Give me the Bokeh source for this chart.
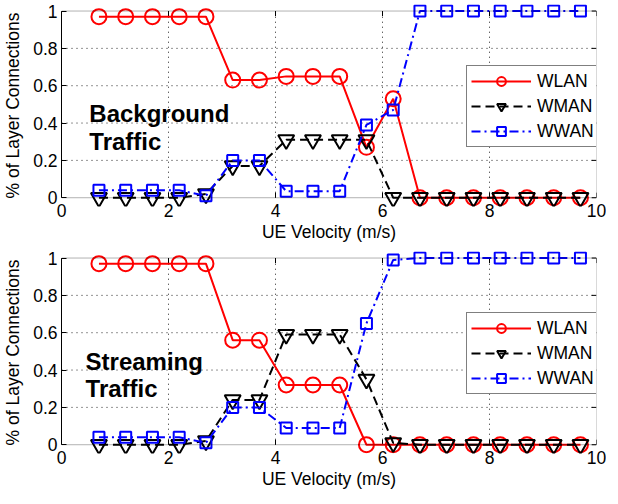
from bokeh.plotting import figure
from bokeh.models import (Legend, LegendItem, FixedTicker, NumeralTickFormatter,
                          Label, Range1d, BoxAnnotation)
from bokeh.layouts import column
from bokeh.embed import file_html
from bokeh.resources import INLINE

# ---------------- data ----------------
velocity = [0.7, 1.2, 1.7, 2.2, 2.7, 3.2, 3.7, 4.2, 4.7, 5.2,
            5.7, 6.2, 6.7, 7.2, 7.7, 8.2, 8.7, 9.2, 9.7]

bg_wlan = [0.97, 0.97, 0.97, 0.97, 0.97, 0.63, 0.63, 0.65, 0.65, 0.65,
           0.27, 0.53, 0, 0, 0, 0, 0, 0, 0]
bg_wman = [0, 0, 0, 0, 0.02, 0.17, 0.17, 0.31, 0.31, 0.31,
           0.31, 0, 0, 0, 0, 0, 0, 0, 0]
bg_wwan = [0.04, 0.04, 0.04, 0.04, 0.01, 0.2, 0.2, 0.035, 0.035, 0.035,
           0.39, 0.47, 1, 1, 1, 1, 1, 1, 1]

st_wlan = [0.97, 0.97, 0.97, 0.97, 0.97, 0.56, 0.56, 0.32, 0.32, 0.32,
           0, 0, 0, 0, 0, 0, 0, 0, 0]
st_wman = [0, 0, 0, 0, 0.02, 0.24, 0.24, 0.59, 0.59, 0.59,
           0.35, 0.01, 0, 0, 0, 0, 0, 0, 0]
st_wwan = [0.04, 0.04, 0.04, 0.04, 0.01, 0.2, 0.2, 0.09, 0.09, 0.09,
           0.65, 0.99, 1, 1, 1, 1, 1, 1, 1]

series_names = ["WLAN", "WMAN", "WWAN"]
x_ticks = [0, 2, 4, 6, 8, 10]
y_ticks = [0, 0.2, 0.4, 0.6, 0.8, 1]
x_label = "UE Velocity (m/s)"
y_label = "% of Layer Connections"
bg_text = ["Background", "Traffic"]
st_text = ["Streaming", "Traffic"]

FONT = "Liberation Sans"
FS = "17.5px"
X0, X1 = 0, 10
Y0, Y1 = 0, 1
Y_PAD_LO, Y_PAD_HI = 0.047, 0.035   # room so edge markers are not clipped
TICK_X, TICK_Y = 0.09, 0.027        # inner tick length (data units)


def make_panel(wlan, wman, wwan, text_lines, text_pos, height):
    p = figure(width=606, height=height,
               x_range=Range1d(X0, X1), y_range=Range1d(Y0 - Y_PAD_LO, Y1 + Y_PAD_HI),
               output_backend="svg", toolbar_location=None,
               min_border_left=57, min_border_right=10,
               min_border_top=4, min_border_bottom=41)
    p.outline_line_color = None
    p.background_fill_color = "white"
    p.border_fill_color = "white"
    p.xgrid.visible = False
    p.ygrid.visible = False

    for ax, ticks in ((p.xaxis[0], x_ticks), (p.yaxis[0], y_ticks)):
        ax.ticker = FixedTicker(ticks=ticks)
        ax.formatter = NumeralTickFormatter(format="0.[0]")
        ax.major_tick_out = 0
        ax.minor_tick_line_color = None
        ax.major_label_text_font = FONT
        ax.major_label_text_font_size = FS
        ax.major_label_text_color = "black"
        ax.axis_label_text_font = FONT
        ax.axis_label_text_font_size = FS
        ax.axis_label_text_font_style = "normal"
        ax.axis_label_text_color = "black"
    # x axis sits just below the box; its ticks are drawn by hand on the box edge
    p.xaxis.axis_line_color = None
    p.xaxis.major_tick_in = 0
    p.xaxis.major_tick_line_color = None
    p.xaxis.major_label_standoff = -3
    p.xaxis.axis_label = x_label
    p.xaxis.axis_label_standoff = 2
    p.yaxis.bounds = (Y0, Y1)
    p.yaxis.major_tick_in = 5
    p.yaxis.axis_line_color = "black"
    p.yaxis.major_tick_line_color = "black"
    p.yaxis.axis_label = y_label
    p.yaxis.major_label_standoff = 4
    p.yaxis.axis_label_standoff = 7

    # dotted grid
    gx = x_ticks[1:-1]
    gy = y_ticks[1:-1]
    p.segment(x0=gx, y0=[Y0] * len(gx), x1=gx, y1=[Y1] * len(gx),
              line_color="black", line_dash="1 4", line_width=1, line_alpha=0.85)
    p.segment(x0=[X0] * len(gy), y0=gy, x1=[X1] * len(gy), y1=gy,
              line_color="black", line_dash="1 4", line_width=1, line_alpha=0.85)
    # inner ticks on bottom, top and right edges
    n = len(x_ticks)
    p.segment(x0=x_ticks, y0=[Y0] * n, x1=x_ticks, y1=[Y0 + TICK_Y] * n,
              line_color="black", line_width=1)
    p.segment(x0=x_ticks, y0=[Y1] * n, x1=x_ticks, y1=[Y1 - TICK_Y] * n,
              line_color="black", line_width=1)
    m = len(y_ticks)
    p.segment(x0=[X1] * m, y0=y_ticks, x1=[X1 - TICK_X] * m, y1=y_ticks,
              line_color="black", line_width=1)

    l1 = p.line(velocity, wlan, line_color="#ff0000", line_width=2)
    m1 = p.scatter(velocity, wlan, marker="circle", size=15, line_color="#ff0000",
                   line_width=2, fill_color=None)
    l2 = p.line(velocity, wman, line_color="black", line_width=2, line_dash="9 5")
    m2 = p.scatter(velocity, wman, marker="inverted_triangle", size=16, line_color="black",
                   line_width=2, fill_color=None)
    l3 = p.line(velocity, wwan, line_color="#0000ff", line_width=2, line_dash="9 4 2 4")
    m3 = p.scatter(velocity, wwan, marker="square", size=11, line_color="#0000ff",
                   line_width=2, fill_color=None)

    # axes box
    p.add_layout(BoxAnnotation(left=X0, right=X1, bottom=Y0, top=Y1, fill_color=None,
                               line_color="black", line_width=1))

    legend = Legend(items=[LegendItem(label=series_names[0], renderers=[l1, m1]),
                           LegendItem(label=series_names[1], renderers=[l2, m2]),
                           LegendItem(label=series_names[2], renderers=[l3, m3])],
                    location=(405, 59))
    legend.label_text_font = FONT
    legend.label_text_font_size = FS
    legend.label_text_color = "black"
    legend.glyph_width = 60
    legend.glyph_height = 22
    legend.label_height = 20
    legend.label_standoff = 6
    legend.spacing = 3
    legend.padding = 4
    legend.margin = 0
    legend.border_line_color = "black"
    legend.border_line_width = 1
    legend.background_fill_color = "white"
    legend.background_fill_alpha = 1
    p.add_layout(legend)

    for txt, (tx, ty) in zip(text_lines, text_pos):
        p.add_layout(Label(x=tx, y=ty, text=txt, text_font=FONT, text_font_style="bold",
                           text_font_size="24px", text_color="black",
                           text_baseline="alphabetic", text_align="left"))
    return p


top = make_panel(bg_wlan, bg_wman, bg_wwan, bg_text, [(0.52, 0.452), (0.52, 0.302)],
                 height=247)
bottom = make_panel(st_wlan, st_wman, st_wwan, st_text, [(0.45, 0.447), (0.45, 0.30)],
                    height=247)

layout = column(top, bottom, spacing=0)
open("out.html", "w").write(file_html(layout, INLINE))
